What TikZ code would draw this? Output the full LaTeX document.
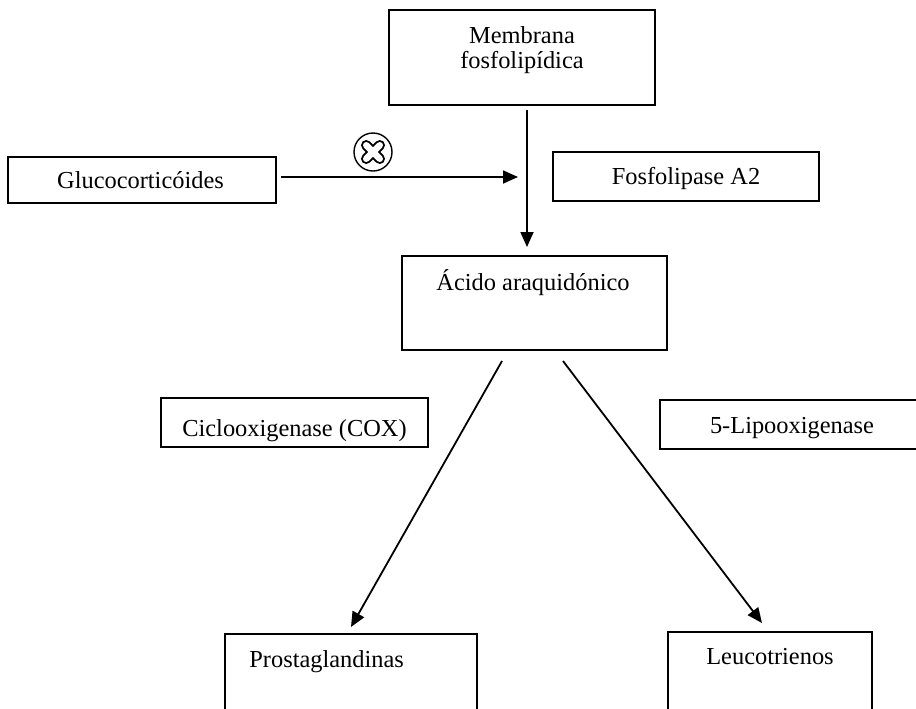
\documentclass[tikz,border=0pt]{standalone}
\usepackage{fontspec}
\setmainfont{Liberation Serif}
\usetikzlibrary{arrows.meta}

\begin{document}
\begin{tikzpicture}[%
x=0.5pt, y=-0.5pt,
box/.style={draw, line width=1pt, inner sep=0pt},
arr/.style={line width=0.9pt, -{Triangle[length=7.5pt,width=6.5pt]}},
lbl/.style={font=\fontsize{12.2}{12.5}\selectfont, inner sep=0pt, align=center},
]
\useasboundingbox (0,0) rectangle (916,708);
\clip (0,0) rectangle (916,708);
%% boxes;
\node[box, minimum width=133pt, minimum height=47.5pt] (membrana) at (522,57.5) {};
\node[box, minimum width=134pt, minimum height=23pt] (gluco) at (142,180) {};
\node[box, minimum width=133pt, minimum height=24.5pt] (fosfo) at (686,176.5) {};
\node[box, minimum width=132.5pt, minimum height=47pt] (acido) at (534.5,303) {};
\node[box, minimum width=133.5pt, minimum height=24.5pt] (cox) at (294.5,422.5) {};
\node[box, minimum width=132pt, minimum height=24.5pt] (lox) at (792,424.5) {};
\node[box, minimum width=126pt, minimum height=47pt] (prosta) at (351,681) {};
\node[box, minimum width=102pt, minimum height=47pt] (leuco) at (770,679) {};
%% labels;
\node[lbl, anchor=north] (tmembrana) at (522,26.5) {Membrana\\fosfolipídica};
\node[lbl, anchor=base] (tgluco) at (140.5,188) {Glucocorticóides};
\node[lbl, anchor=base] (tfosfo) at (686,184) {Fosfolipase A2};
\node[lbl, anchor=base] (tacido) at (533,290) {Ácido araquidónico};
\node[lbl, anchor=base] (tcox) at (294.5,436) {Ciclooxigenase (COX)};
\node[lbl, anchor=base] (tlox) at (792,433) {5-Lipooxigenase};
\node[lbl, anchor=base west] (tprosta) at (249,667) {Prostaglandinas};
\node[lbl, anchor=base] (tleuco) at (770,664) {Leucotrienos};
%% inhibition mark;
\node[circle, draw, line width=0.7pt, minimum size=19pt, inner sep=0pt] (inib) at (373,152) {};
\begin{scope}[shift={(inib.center)}, line cap=round]
\draw[line width=5.2pt] (-6.8,-6.8) -- (6.8,6.8) (-6.8,6.8) -- (6.8,-6.8);
\draw[line width=3.2pt, white] (-6.8,-6.8) -- (6.8,6.8) (-6.8,6.8) -- (6.8,-6.8);
\end{scope}
%% arrows;
\coordinate (join) at (527,177);
\draw[arr, shorten <=2pt, shorten >=4pt] (membrana.south -| join) -- (acido.north -| join);
\draw[arr, shorten <=2pt, shorten >=4.5pt] (gluco.east |- join) -- (join);
\draw[arr] ([xshift=-16.25pt, yshift=-5pt]acido.south) -- ([yshift=3pt]prosta.north);
\draw[arr] ([xshift=14.25pt, yshift=-5pt]acido.south) -- ([xshift=-4pt, yshift=4pt]leuco.north);
\end{tikzpicture}
\end{document}
